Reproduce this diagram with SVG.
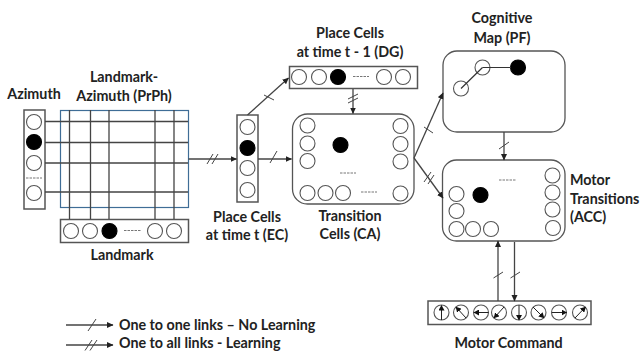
<svg xmlns="http://www.w3.org/2000/svg" width="640" height="351" viewBox="0 0 640 351">
<defs>
<marker id="a" markerWidth="7" markerHeight="7" refX="6" refY="3.500" orient="auto" markerUnits="userSpaceOnUse"><path d="M0,0.500L6.500,3.500L0,6.500z" fill="#222"/></marker>
<marker id="s" markerWidth="6" markerHeight="6" refX="5" refY="3" orient="auto" markerUnits="userSpaceOnUse"><path d="M0,0L5.500,3L0,6z" fill="#111"/></marker>
</defs>
<style>
text{font-family:"Lato","Liberation Sans",sans-serif;font-weight:700;font-size:14.300px;fill:#222;text-anchor:middle}
.box{fill:#fff;stroke:#555;stroke-width:1.500}
.rb{fill:#fff;stroke:#555;stroke-width:1.300}
circle{fill:#fff;stroke:#555;stroke-width:1.100}
circle.f{fill:#000;stroke:#000}
.d{fill:none;stroke:#777;stroke-width:1;stroke-dasharray:2.500 1}
.l{fill:none;stroke:#444;stroke-width:1.300}
.g{fill:none;stroke:#333;stroke-width:1.200}
.t{fill:none;stroke:#444;stroke-width:1}
.ar{marker-end:url(#a)}
.as{marker-end:url(#s);fill:none;stroke:#222;stroke-width:1}
text.le{text-anchor:start}
</style>
<g id="azimuth"><rect class="box" x="24" y="110" width="21" height="99"/>
<circle cx="34" cy="122" r="7.500"/><circle class="f" cx="34" cy="142" r="7.500"/><circle cx="34" cy="163" r="7.500"/><path class="d" d="M26 178H42"/><circle cx="34" cy="193" r="7.500"/>
<text x="34" y="99">Azimuth</text></g>
<g id="prph"><rect x="60.500" y="110.500" width="128" height="97" fill="none" stroke="#3f6d96" stroke-width="1.200"/>
<text x="124" y="82">Landmark-</text><text x="124" y="101">Azimuth (PrPh)</text></g>
<g id="landmark"><rect class="box" x="60.500" y="219.500" width="128" height="23"/>
<circle cx="71" cy="231" r="7.500"/><circle cx="90" cy="231" r="7.500"/><circle class="f" cx="109.500" cy="231" r="7.500"/><path class="d" d="M124 230.500H141"/><circle cx="155" cy="231" r="7.500"/><circle cx="174" cy="231" r="7.500"/>
<text x="122" y="260">Landmark</text></g>
<g id="ec"><rect class="box" x="237" y="115" width="21" height="87"/>
<circle cx="247.500" cy="127" r="7.500"/><circle class="f" cx="247.500" cy="148" r="7.500"/><circle cx="247.500" cy="168" r="7.500"/><circle cx="247.500" cy="190" r="7.500"/>
<text x="247" y="222">Place Cells</text><text x="247" y="240">at time t (EC)</text></g>
<g id="dg"><rect class="box" x="289.500" y="66.500" width="128" height="22"/>
<circle cx="299" cy="77" r="7.500"/><circle cx="319" cy="77" r="7.500"/><circle class="f" cx="338" cy="77" r="7.500"/><path class="d" d="M353 76.500H369"/><circle cx="384" cy="77" r="7.500"/><circle cx="403" cy="77" r="7.500"/>
<text x="350" y="38">Place Cells</text><text x="350" y="57">at time t - 1 (DG)</text></g>
<g id="ca"><rect class="rb" x="292.500" y="114" width="121.500" height="90" rx="15"/>
<circle cx="307.500" cy="125.500" r="7.500"/><circle cx="307.500" cy="143.500" r="7.500"/><circle cx="307.500" cy="161" r="7.500"/>
<circle cx="307.500" cy="193" r="7.500"/><circle cx="325.500" cy="193" r="7.500"/><circle cx="343" cy="193" r="7.500"/><circle cx="400.500" cy="193.500" r="7.500"/>
<circle cx="400.500" cy="126" r="7.500"/><circle cx="400.500" cy="144" r="7.500"/><circle cx="400.500" cy="161.500" r="7.500"/>
<circle class="f" cx="340.500" cy="145" r="7.500"/><path class="d" d="M340 173H356M361 192H377"/>
<text x="350" y="221">Transition</text><text x="350" y="239">Cells (CA)</text></g>
<g id="pf"><rect class="rb" x="443" y="51" width="122" height="81" rx="14"/>
<circle cx="482.500" cy="67.500" r="7.500"/><circle cx="461" cy="88.500" r="7.500"/><circle class="f" cx="518" cy="67.500" r="7.500"/>
<path class="g" d="M482.500 67.500H511M482.500 67.500L461 88.500"/>
<text x="502" y="23">Cognitive</text><text x="502" y="43">Map (PF)</text></g>
<g id="acc"><rect class="rb" x="442.500" y="160" width="122.500" height="81" rx="14"/>
<circle cx="456.500" cy="194" r="7.500"/><circle cx="456.500" cy="211" r="7.500"/><circle cx="456.500" cy="229" r="7.500"/><circle cx="473" cy="229" r="7.500"/><circle cx="491" cy="229" r="7.500"/>
<circle cx="552.500" cy="175.500" r="7.500"/><circle cx="552.500" cy="192.500" r="7.500"/><circle cx="552.500" cy="209.500" r="7.500"/><circle cx="553" cy="228" r="7.500"/>
<circle class="f" cx="480.500" cy="195" r="7.500"/><path class="d" d="M499 180H516"/>
<text class="le" x="570" y="185">Motor</text><text class="le" x="570" y="204">Transitions</text><text class="le" x="570" y="222">(ACC)</text></g>
<g id="motor"><rect class="box" x="428" y="301" width="163" height="23.500"/>
<circle cx="441.500" cy="312.500" r="7.500"/><circle cx="461" cy="312.500" r="7.500"/><circle cx="481" cy="312.500" r="7.500"/><circle cx="499" cy="312.500" r="7.500"/><circle cx="519" cy="312.500" r="7.500"/><circle cx="538.500" cy="312.500" r="7.500"/><circle cx="559" cy="312.500" r="7.500"/><circle cx="580" cy="312.500" r="7.500"/>
<path class="as" d="M441.500 320V305.500"/><path class="as" d="M466 318L456 307"/><path class="as" d="M488.500 312.500H474"/><path class="as" d="M504 307L494 318"/><path class="as" d="M519 305V320"/><path class="as" d="M533 307L544 318"/><path class="as" d="M552 312.500H566.500"/><path class="as" d="M575 318L585.500 307"/>
<text x="508.500" y="347.500">Motor Command</text></g>
<g id="connectors">
<path class="l" d="M45 121.500H188M45 142.500H188M45 163H188M45 192H188"/>
<path class="l" d="M69.500 110V219M90.500 110V219M109 110V219M155 110V219M174 110V219"/>
<path class="l ar" d="M188.500 159H236.500"/><path class="t" d="M207 164L213 154M212 164L218 154"/>
<path class="l ar" d="M247.500 115L288.500 78"/><path class="t" d="M264 95L274 100"/>
<path class="l ar" d="M258 159H291.500"/><path class="t" d="M270 163L277 151"/>
<path class="l ar" d="M353 89V113.500"/><path class="t" d="M348 99L358 94M348 103L358 98"/>
<path class="l ar" d="M414 158L443 93"/><path class="t" d="M424 127L433 133"/>
<path class="l ar" d="M414 158L443 198"/><path class="t" d="M424 182L431 172M428 184L434 175"/>
<path class="l ar" d="M504 132V160"/><path class="t" d="M499 149L509 142"/>
<path class="l ar" d="M498 301V241"/><path class="t" d="M493.500 278L503 272"/>
<path class="l ar" d="M514.500 242V301"/><path class="t" d="M510.500 278L520 272"/>
</g>
<g id="legend">
<path class="l ar" d="M66 325H113" stroke-width="1"/><path class="t" d="M88 331L96 319"/>
<path class="l ar" d="M66 345H113" stroke-width="1"/><path class="t" d="M85 350.500L92 340M90 350.500L97 340"/>
<text class="le" x="119" y="330">One to one links – No Learning</text>
<text class="le" x="119" y="347.500">One to all links - Learning</text>
</g>
</svg>
